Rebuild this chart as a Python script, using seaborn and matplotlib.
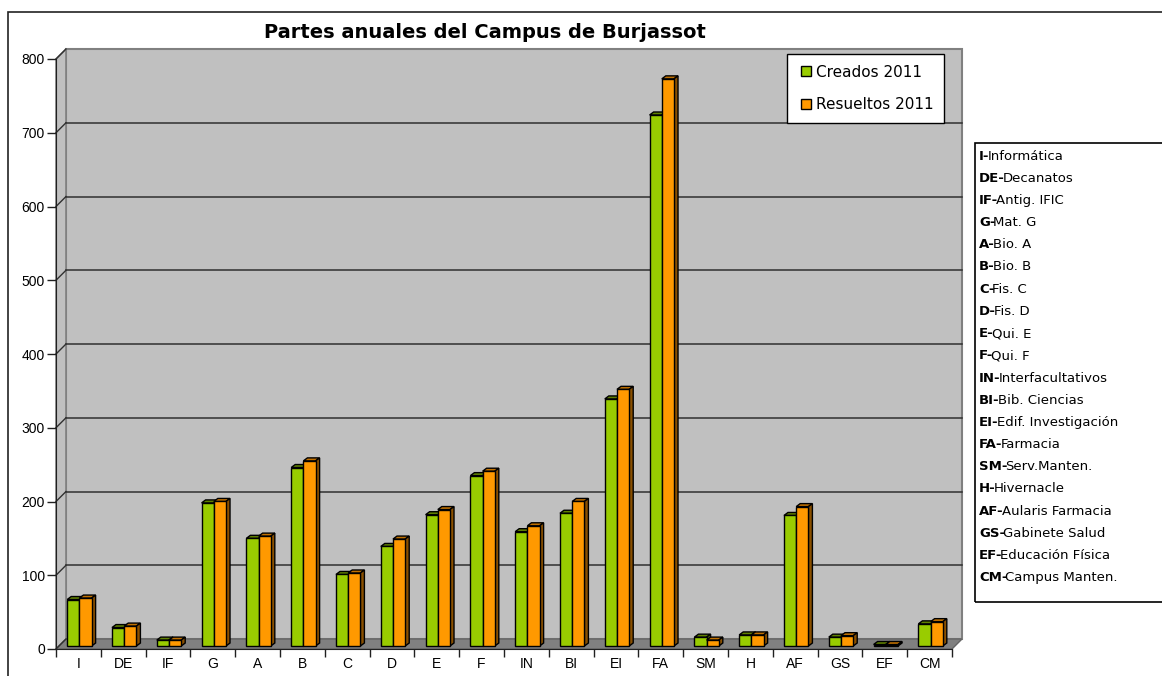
import numpy as np
import pandas as pd
import matplotlib
matplotlib.use('Agg')
import matplotlib.pyplot as plt
import matplotlib.transforms as mtransforms
from matplotlib.patches import Polygon, Rectangle
from matplotlib.lines import Line2D
import seaborn as sns

# datos
categorias = ['I', 'DE', 'IF', 'G', 'A', 'B', 'C', 'D', 'E', 'F',
              'IN', 'BI', 'EI', 'FA', 'SM', 'H', 'AF', 'GS', 'EF', 'CM']
creados_2011 = [63, 25, 8, 194, 146, 242, 97, 135, 178, 231,
                155, 180, 335, 720, 12, 15, 177, 12, 2, 30]
resueltos_2011 = [65, 27, 8, 196, 149, 251, 99, 145, 185, 237,
                  163, 196, 348, 769, 8, 15, 189, 14, 2, 33]
series = ['Creados 2011', 'Resueltos 2011']
abreviaturas = ['I', 'DE', 'IF', 'G', 'A', 'B', 'C', 'D', 'E', 'F',
                'IN', 'BI', 'EI', 'FA', 'SM', 'H', 'AF', 'GS', 'EF', 'CM']
descripciones = ['Informática', 'Decanatos', 'Antig. IFIC', 'Mat. G', 'Bio. A',
                 'Bio. B', 'Fis. C', 'Fis. D', 'Qui. E', 'Qui. F',
                 'Interfacultativos', 'Bib. Ciencias', 'Edif. Investigación',
                 'Farmacia', 'Serv.Manten.', 'Hivernacle', 'Aularis Farmacia',
                 'Gabinete Salud', 'Educación Física', 'Campus Manten.']
yticks = [0, 100, 200, 300, 400, 500, 600, 700, 800]

verde, naranja = '#99cc00', '#ff9900'
verde_top, verde_lado = '#5f8000', '#4d6600'
naranja_top, naranja_lado = '#c07000', '#8a5000'

df = pd.DataFrame({
    'cat': categorias * 2,
    'valor': creados_2011 + resueltos_2011,
    'serie': [series[0]] * len(categorias) + [series[1]] * len(categorias),
})

W, H = 1162, 676
fig = plt.figure(figsize=(W / 100, H / 100), dpi=100)
fig.patch.set_facecolor('white')

# marco exterior
fig.patches.append(Rectangle((8 / W, -0.05), 1.1, 1 - 12 / H + 0.05, transform=fig.transFigure,
                             fill=False, edgecolor='#222222', linewidth=1.2))

ax = fig.add_axes([56 / W, (H - 649) / H, (952 - 56) / W, (649 - 59) / H])
ax.set_facecolor('none')

sns.barplot(data=df, x='cat', y='valor', hue='serie', palette=[verde, naranja],
            saturation=1, width=0.545, edgecolor='black', linewidth=1, legend=False, ax=ax)

n = len(categorias)
ax.set_xlim(-0.5, n - 0.5)
ax.set_ylim(0, 800)

# conversion pixel -> datos
ux = (952 - 56) / n          # px por unidad x
uy = (649 - 59) / 800        # px por unidad y
wx, wy = 10 / ux, 10 / uy    # profundidad de la pared
bx, by = 4 / ux, 3 / uy      # profundidad de las barras

# pared del fondo, pared lateral y suelo
ax.add_patch(Rectangle((-0.5 + wx, wy), n, 800, facecolor='#c0c0c0', edgecolor='#808080',
                       linewidth=1.5, zorder=0.1, clip_on=False))
ax.add_patch(Polygon([(-0.5, 0), (-0.5, 800), (-0.5 + wx, 800 + wy), (-0.5 + wx, wy)],
                     closed=True, facecolor='#c0c0c0', edgecolor='#808080', linewidth=1.2,
                     zorder=0.2, clip_on=False))
ax.add_patch(Polygon([(-0.5, 0), (n - 0.5, 0), (n - 0.5 + wx, wy), (-0.5 + wx, wy)],
                     closed=True, facecolor='#808080', edgecolor='#666666', linewidth=1,
                     zorder=0.3, clip_on=False))
for yv in yticks[1:-1]:
    ax.plot([-0.5 + wx, n - 0.5 + wx], [yv + wy, yv + wy], color='#303030', lw=1.1,
            zorder=0.4, clip_on=False)
for yv in yticks:
    ax.plot([-0.5, -0.5 + wx], [yv, yv + wy], color='#303030', lw=1, zorder=0.4, clip_on=False)

# caras 3D de las barras
desplaza = mtransforms.ScaledTranslation(0.01, 0.03, fig.dpi_scale_trans)
caras = [(verde_top, verde_lado, 3), (naranja_top, naranja_lado, 4)]
for cont, (ctop, clado, z) in zip(ax.containers, caras):
    for p in cont.patches:
        x0, w, h = p.get_x(), p.get_width(), p.get_height()
        x1 = x0 + w
        top = Polygon([(x0, h), (x1, h), (x1 + bx, h + by), (x0 + bx, h + by)], closed=True,
                      facecolor=ctop, edgecolor='black', linewidth=1, zorder=z)
        lado = Polygon([(x1, 0), (x1, h), (x1 + bx, h + by), (x1 + bx, by)], closed=True,
                       facecolor=clado, edgecolor='black', linewidth=1, zorder=z)
        for q in (top, lado):
            ax.add_patch(q)
            q.set_transform(ax.transData + desplaza)
        p.set_zorder(z + 0.5)
        p.set_transform(ax.transData + desplaza)

# ejes
for s in ['top', 'right']:
    ax.spines[s].set_visible(False)
ax.spines['left'].set_color('#202020')
ax.spines['bottom'].set_color('#202020')
ax.spines['left'].set_zorder(5)
ax.spines['bottom'].set_zorder(5)
ax.set_yticks(yticks)
ax.set_yticklabels([str(v) for v in yticks], fontsize=10, family='Liberation Sans')
ax.tick_params(axis='y', length=6.5, width=1, color='#202020', pad=1.5)
ax.set_xticks(range(n))
ax.set_xticklabels(categorias, fontsize=10, family='Liberation Sans')
ax.set_xticks(np.arange(-0.5, n, 1), minor=True)
ax.tick_params(axis='x', which='major', length=0, pad=6)
ax.tick_params(axis='x', which='minor', length=5.5, width=1, color='#202020')
ax.set_xlabel('')
ax.set_ylabel('')
ax.grid(False)

# titulo
fig.text(485 / W, 1 - 32 / H, 'Partes anuales del Campus de Burjassot', ha='center', va='center',
         fontsize=14, fontweight='bold', family='DejaVu Sans')

# leyenda
handles = [Line2D([], [], marker='s', linestyle='none', markersize=7, markerfacecolor=c,
                  markeredgecolor='black', markeredgewidth=1) for c in (verde, naranja)]
leg = fig.legend(handles, series, loc='upper right', bbox_to_anchor=(944 / W, 1 - 54 / H),
                 frameon=True, fancybox=False, edgecolor='black', facecolor='white',
                 framealpha=1, fontsize=11, handletextpad=0.15, handlelength=1.0,
                 labelspacing=1.15, borderpad=0.7, borderaxespad=0)
leg.get_frame().set_linewidth(1)
leg.set_zorder(10)

# cuadro de abreviaturas
fig.patches.append(Rectangle((975 / W, 1 - 602 / H), 0.2, (602 - 143) / H, transform=fig.transFigure,
                             fill=False, edgecolor='black', linewidth=1.2))
for i, (ab, de) in enumerate(zip(abreviaturas, descripciones)):
    yy = 1 - (156 + i * 22.2) / H
    t = fig.text(979 / W, yy, ab + '-', ha='left', va='center', fontsize=9.5,
                 fontweight='bold', family='DejaVu Sans')
    fig.texts.append(matplotlib.text.Annotation(de, xy=(1, 0.5), xycoords=t, xytext=(-1.5, 0),
                                                textcoords='offset points', ha='left',
                                                va='center', fontsize=9.5,
                                                family='DejaVu Sans', figure=fig))

fig.savefig('out.png', dpi=100)
